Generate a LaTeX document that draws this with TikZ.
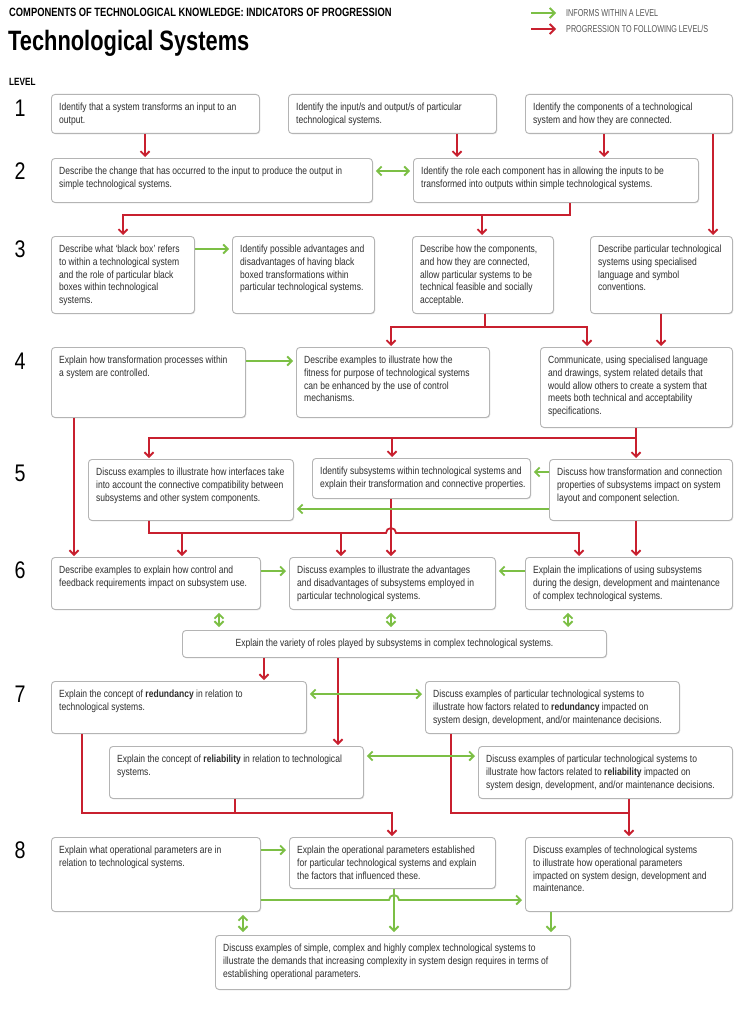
\documentclass[tikz,border=0pt]{standalone}
\usepackage{fontspec}
\setmainfont{Liberation Sans}[FakeStretch=0.82]
\newfontfamily\condfont{Liberation Sans}[FakeStretch=0.78]
\newfontfamily\legfont{Liberation Sans}[FakeStretch=0.72]
\usetikzlibrary{arrows.meta,shadows}
\definecolor{tred}{HTML}{C8202F}
\definecolor{tgreen}{HTML}{7CBF45}
\definecolor{tgray}{HTML}{2E2E2E}
\definecolor{bgray}{HTML}{B4B4B4}
\definecolor{lgray}{HTML}{555555}
\tikzset{
  box/.style={draw=bgray, line width=0.9pt, rounded corners=3.5pt, fill=white, inner sep=0pt,
    drop shadow={shadow xshift=0.8pt, shadow yshift=-0.9pt, opacity=0.22, fill=black!50}},
  txt/.style={align=left, inner sep=0pt, text=tgray, font=\fontsize{10.4}{12.7}\selectfont},
  lvl/.style={inner sep=0pt, font=\fontsize{24}{24}\selectfont},
  rln/.style={draw=tred, line width=1.8pt},
  rarr/.style={rln, -{Straight Barb[length=4.5pt,width=9pt]}, shorten >=1pt},
  gln/.style={draw=tgreen, line width=1.8pt},
  garr/.style={gln, -{Straight Barb[length=4.5pt,width=9pt]}, shorten >=3pt},
  gdbl/.style={gln, {Straight Barb[length=4.5pt,width=9pt]}-{Straight Barb[length=4.5pt,width=9pt]}, shorten >=3pt, shorten <=3pt},
  leg/.style={inner sep=0pt, text=lgray, font=\legfont\fontsize{10}{11}\selectfont},
}
\newcommand\tbox[6]{%
  \node[box, anchor=north west, minimum width=#4pt, minimum height=#5pt] (#1) at (#2,#3) {};
  \node[txt, anchor=north west] (#1t) at ([xshift=8pt,yshift=-9pt]#1.north west) {#6};
}
\begin{document}
\begin{tikzpicture}[x=1pt,y=-1pt]
\useasboundingbox[fill=white] (0,0) rectangle (740,1014);

% header
\node[anchor=west, inner sep=0pt, font=\condfont\bfseries\fontsize{12}{13}\selectfont] (title) at (9,12) {COMPONENTS OF TECHNOLOGICAL KNOWLEDGE: INDICATORS OF PROGRESSION};
\node[anchor=west, inner sep=0pt, font=\condfont\bfseries\fontsize{28}{30}\selectfont] (head) at (8,43) {Technological Systems};
\node[anchor=west, inner sep=0pt, font=\condfont\bfseries\fontsize{10.5}{12}\selectfont] (levhead) at (9,82) {LEVEL};

% legend
\coordinate (lg1) at (531,13); \coordinate (lg2) at (556,13);
\coordinate (lr1) at (531,29); \coordinate (lr2) at (556,29);
\draw[gln, -{Straight Barb[length=5pt,width=10pt]}] (lg1) -- (lg2);
\draw[rln, -{Straight Barb[length=5pt,width=10pt]}] (lr1) -- (lr2);
\node[leg, anchor=west] (lgt) at (566,13) {INFORMS WITHIN A LEVEL};
\node[leg, anchor=west] (lrt) at (566,29) {PROGRESSION TO FOLLOWING LEVEL/S};

% level numbers
\node[lvl] (n1) at (20,108) {1};
\node[lvl] (n2) at (20,171) {2};
\node[lvl] (n3) at (20,249) {3};
\node[lvl] (n4) at (20,361) {4};
\node[lvl] (n5) at (20,473) {5};
\node[lvl] (n6) at (20,570) {6};
\node[lvl] (n7) at (20,694) {7};
\node[lvl] (n8) at (20,850) {8};

% level 1
\tbox{A1}{51}{94}{208}{39}{Identify that a system transforms an input to an\\output.}
\tbox{B1}{288}{94}{208}{39}{Identify the input/s and output/s of particular\\technological systems.}
\tbox{C1}{525}{94}{207}{39}{Identify the components of a technological\\system and how they are connected.}
% level 2
\tbox{A2}{51}{158}{321}{44}{Describe the change that has occurred to the input to produce the output in\\simple technological systems.}
\tbox{B2}{413}{158}{285}{44}{Identify the role each component has in allowing the inputs to be\\transformed into outputs within simple technological systems.}
% level 3
\tbox{A3}{51}{236}{143}{77}{Describe what ‘black box’ refers\\to within a technological system\\and the role of particular black\\boxes within technological\\systems.}
\tbox{B3}{232}{236}{142}{77}{Identify possible advantages and\\disadvantages of having black\\boxed transformations within\\particular technological systems.}
\tbox{C3}{412}{236}{141}{77}{Describe how the components,\\and how they are connected,\\allow particular systems to be\\technical feasible and socially\\acceptable.}
\tbox{D3}{590}{236}{142}{77}{Describe particular technological\\systems using specialised\\language and symbol\\conventions.}
% level 4
\tbox{A4}{51}{347}{194}{70}{Explain how transformation processes within\\a system are controlled.}
\tbox{B4}{296}{347}{193}{70}{Describe examples to illustrate how the\\fitness for purpose of technological systems\\can be enhanced by the use of control\\mechanisms.}
\tbox{C4}{540}{347}{192}{80}{Communicate, using specialised language\\and drawings, system related details that\\would allow others to create a system that\\meets both technical and acceptability\\specifications.}
% level 5
\tbox{A5}{88}{459}{205}{61}{Discuss examples to illustrate how interfaces take\\into account the connective compatibility between\\subsystems and other system components.}
\tbox{B5}{312}{458}{218}{40}{Identify subsystems within technological systems and\\explain their transformation and connective properties.}
\tbox{C5}{549}{459}{183}{61}{Discuss how transformation and connection\\properties of subsystems impact on system\\layout and component selection.}
% level 6
\tbox{A6}{51}{557}{209}{52}{Describe examples to explain how control and\\feedback requirements impact on subsystem use.}
\tbox{B6}{289}{557}{206}{52}{Discuss examples to illustrate the advantages\\and disadvantages of subsystems employed in\\particular technological systems.}
\tbox{C6}{525}{557}{207}{52}{Explain the implications of using subsystems\\during the design, development and maintenance\\of complex technological systems.}
\node[box, anchor=north west, minimum width=424pt, minimum height=27pt] (V) at (182,630) {};
\node[txt, align=center] (Vt) at (V.center) {Explain the variety of roles played by subsystems in complex technological systems.};
% level 7
\tbox{R7}{51}{681}{255}{52}{Explain the concept of \textbf{redundancy} in relation to\\technological systems.}
\tbox{RE7}{425}{681}{254}{52}{Discuss examples of particular technological systems to\\illustrate how factors related to \textbf{redundancy} impacted on\\system design, development, and/or maintenance decisions.}
\tbox{Rel}{109}{746}{254}{52}{Explain the concept of \textbf{reliability} in relation to technological\\systems.}
\tbox{RelEx}{478}{746}{254}{52}{Discuss examples of particular technological systems to\\illustrate how factors related to \textbf{reliability} impacted on\\system design, development, and/or maintenance decisions.}
% level 8
\tbox{A8}{51}{837}{209}{74}{Explain what operational parameters are in\\relation to technological systems.}
\tbox{B8}{289}{837}{206}{51}{Explain the operational parameters established\\for particular technological systems and explain\\the factors that influenced these.}
\tbox{C8}{525}{837}{207}{74}{Discuss examples of technological systems\\to illustrate how operational parameters\\impacted on system design, development and\\maintenance.}
\tbox{D8}{215}{935}{355}{54}{Discuss examples of simple, complex and highly complex technological systems to\\illustrate the demands that increasing complexity in system design requires in terms of\\establishing operational parameters.}

% ---------- red connectors ----------
\draw[rarr] (145,0 |- A1.south) -- (145,0 |- A2.north);
\draw[rarr] (457,0 |- B1.south) -- (457,0 |- B2.north);
\draw[rarr] (604,0 |- C1.south) -- (604,0 |- B2.north);
\draw[rarr] (713,0 |- C1.south) -- (713,0 |- D3.north);

\draw[rarr] (570,0 |- B2.south) -- (570,215) -- (123,215) -- (123,0 |- A3.north);
\draw[rarr] (482,215) -- (482,0 |- C3.north);

\draw[rln] (485,0 |- C3.south) -- (485,327);
\draw[rarr] (485,327) -- (391,327) -- (391,0 |- B4.north);
\draw[rarr] (485,327) -- (587,327) -- (587,0 |- C4.north);
\draw[rarr] (661,0 |- D3.south) -- (661,0 |- C4.north);

\draw[rarr] (74,0 |- A4.south) -- (74,0 |- A6.north);
\draw[rarr] (636,0 |- C4.south) -- (636,0 |- C5.north);
\draw[rarr] (636,438) -- (149,438) -- (149,0 |- A5.north);
\draw[rarr] (392,438) -- (392,0 |- B5.north);

\draw[rarr] (149,0 |- A5.south) -- (149,533) -- (386,533) arc[start angle=180, end angle=0, radius=5pt] -- (579,533) -- (579,0 |- C6.north);
\draw[rarr] (182,533) -- (182,0 |- A6.north);
\draw[rarr] (341,533) -- (341,0 |- B6.north);
\draw[rarr] (391,0 |- B5.south) -- (391,0 |- B6.north);
\draw[rarr] (636,0 |- C5.south) -- (636,0 |- C6.north);

\draw[rarr] (264,0 |- V.south) -- (264,0 |- R7.north);
\draw[rarr] (338,0 |- V.south) -- (338,0 |- Rel.north);

\draw[rarr] (82,0 |- R7.south) -- (82,813) -- (392,813) -- (392,0 |- B8.north);
\draw[rln] (235,0 |- Rel.south) -- (235,813);
\draw[rln] (451,0 |- RE7.south) -- (451,813) -- (629,813);
\draw[rarr] (629,0 |- RelEx.south) -- (629,0 |- C8.north);

% ---------- green connectors ----------
\draw[gdbl] (A2.east |- 0,171) -- (B2.west |- 0,171);
\draw[garr] (A3.east |- 0,249) -- (B3.west |- 0,249);
\draw[garr] (A4.east |- 0,361) -- (B4.west |- 0,361);
\draw[garr] (C5.west |- 0,472) -- (B5.east |- 0,472);
\draw[garr] (C5.west |- 0,509) -- (A5.east |- 0,509);
\draw[garr] (A6.east |- 0,571) -- (B6.west |- 0,571);
\draw[garr] (C6.west |- 0,571) -- (B6.east |- 0,571);
\draw[gdbl] (219,0 |- A6.south) -- (219,0 |- V.north);
\draw[gdbl] (391,0 |- B6.south) -- (391,0 |- V.north);
\draw[gdbl] (568,0 |- C6.south) -- (568,0 |- V.north);
\draw[gdbl] (R7.east |- 0,694) -- (RE7.west |- 0,694);
\draw[gdbl] (Rel.east |- 0,756) -- (RelEx.west |- 0,756);
\draw[garr] (A8.east |- 0,850) -- (B8.west |- 0,850);
\draw[garr] (A8.east |- 0,900) -- (389,900) arc[start angle=180, end angle=0, radius=5pt] -- (C8.west |- 0,900);
\draw[garr] (394,0 |- B8.south) -- (394,0 |- D8.north);
\draw[gdbl] (243,0 |- A8.south) -- (243,0 |- D8.north);
\draw[garr] (551,0 |- C8.south) -- (551,0 |- D8.north);
\end{tikzpicture}
\end{document}
